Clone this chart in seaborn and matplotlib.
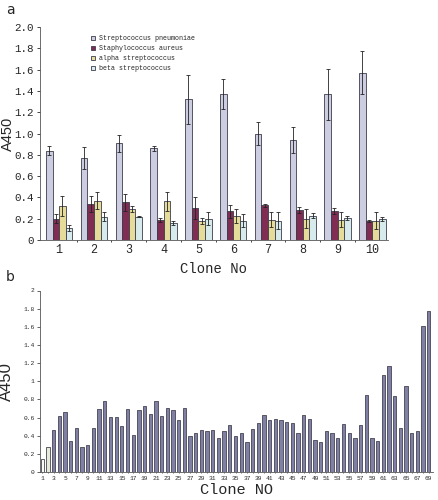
import numpy as np
import pandas as pd
import matplotlib
matplotlib.use("Agg")
import matplotlib.pyplot as plt
import seaborn as sns

sns.set_style("ticks")

# panel a: mean A450 and error per clone for each species
clones = ["1", "2", "3", "4", "5", "6", "7", "8", "9", "10"]
species = ["Streptococcus pneumoniae", "Staphylococcus aureus",
           "alpha streptococcus", "beta streptococcus"]
pneumoniae = [0.84, 0.77, 0.91, 0.86, 1.32, 1.37, 1.00, 0.94, 1.37, 1.57]
pneumoniae_err = [0.04, 0.10, 0.08, 0.02, 0.23, 0.14, 0.11, 0.12, 0.24, 0.20]
aureus = [0.20, 0.335, 0.355, 0.19, 0.30, 0.27, 0.325, 0.28, 0.27, 0.18]
aureus_err = [0.04, 0.075, 0.08, 0.02, 0.10, 0.06, 0.015, 0.03, 0.03, 0.01]
alpha = [0.32, 0.37, 0.29, 0.365, 0.18, 0.225, 0.19, 0.20, 0.19, 0.18]
alpha_err = [0.09, 0.08, 0.03, 0.09, 0.03, 0.07, 0.07, 0.09, 0.07, 0.08]
beta = [0.11, 0.22, 0.22, 0.16, 0.20, 0.18, 0.18, 0.23, 0.21, 0.20]
beta_err = [0.03, 0.04, 0.005, 0.02, 0.06, 0.06, 0.08, 0.02, 0.02, 0.02]

# panel b: A450 of clones 1-69
clone_no = [str(i) for i in range(1, 70)]
a450 = [0.14, 0.28, 0.46, 0.62, 0.66, 0.34, 0.48, 0.27, 0.30, 0.48,
        0.69, 0.78, 0.61, 0.61, 0.51, 0.69, 0.41, 0.68, 0.73, 0.635,
        0.78, 0.62, 0.71, 0.68, 0.575, 0.70, 0.40, 0.435, 0.46, 0.45,
        0.46, 0.375, 0.45, 0.515, 0.40, 0.425, 0.335, 0.47, 0.545, 0.63,
        0.57, 0.585, 0.57, 0.55, 0.545, 0.425, 0.63, 0.585, 0.35, 0.33,
        0.45, 0.43, 0.375, 0.53, 0.425, 0.37, 0.515, 0.85, 0.38, 0.34,
        1.07, 1.17, 0.835, 0.48, 0.95, 0.435, 0.45, 1.61, 1.77]

df = pd.DataFrame({
    "clone": clones * 4,
    "species": np.repeat(species, len(clones)),
    "value": pneumoniae + aureus + alpha + beta,
    "err": pneumoniae_err + aureus_err + alpha_err + beta_err,
})

mono = ["Liberation Mono", "DejaVu Sans Mono"]
narrow = ["Liberation Sans Narrow", "Liberation Sans", "DejaVu Sans"]

fig = plt.figure(figsize=(4.38, 5.0), dpi=100)

# ---- panel a ----
ax1 = fig.add_axes([40 / 438, 1 - 240 / 500, 348 / 438, 213 / 500])
pal = ["#c9c9e6", "#8e1f52", "#f2e68c", "#d3eef0"]
sns.barplot(data=df, x="clone", y="value", hue="species", order=clones,
            hue_order=species, palette=pal, errorbar=None, width=0.76,
            edgecolor="#3c3c4c", linewidth=0.6, ax=ax1)
errs = [pneumoniae_err, aureus_err, alpha_err, beta_err]
for cont, e in zip(ax1.containers, errs):
    xs = [b.get_x() + b.get_width() / 2 for b in cont]
    ys = [b.get_height() for b in cont]
    ax1.errorbar(xs, ys, yerr=e, fmt="none", ecolor="#222222",
                 elinewidth=0.6, capsize=1.5, capthick=0.6)
ax1.set_ylim(0, 2.0)
ax1.set_xlim(-0.55, 9.45)
ax1.set_yticks(np.arange(0, 2.01, 0.2))
ax1.set_yticklabels(["0"] + ["%.1f" % v for v in np.arange(0.2, 2.01, 0.2)],
                    family=mono, fontsize=7.8)
ax1.set_xticks(range(10))
ax1.set_xticklabels(clones, family=mono, fontsize=8.5)
ax1.set_xticks(np.arange(0.5, 9.5, 1), minor=True)
ax1.tick_params(axis="x", which="major", length=0, pad=3)
ax1.tick_params(axis="x", which="minor", length=1.5, width=0.6)
ax1.tick_params(axis="y", length=2.5, width=0.6, pad=2)
ax1.set_xlabel("Clone No", family=mono, fontsize=10, labelpad=4)
ax1.set_ylabel("A450", family=narrow, fontsize=10.5)
ax1.yaxis.set_label_coords(-0.072, 0.5)
for s in ["left", "bottom"]:
    ax1.spines[s].set_linewidth(0.6)
    ax1.spines[s].set_color("#555555")
sns.despine(ax=ax1)
leg = ax1.legend(loc="upper left", bbox_to_anchor=(0.13, 0.99), frameon=False,
                 prop={"family": mono, "size": 4.8}, handlelength=0.6,
                 handleheight=0.6, handletextpad=0.6, labelspacing=0.45)
fig.text(6 / 438, 1 - 10 / 500, "a", fontsize=10, family="DejaVu Sans",
         va="center")

# ---- panel b ----
ax2 = fig.add_axes([40 / 438, 1 - 472 / 500, 393 / 438, 181.5 / 500])
bar_cols = {c: "#7a7aaa" for c in clone_no}
bar_cols["1"] = "#fafaf4"
bar_cols["2"] = "#e8edd6"
sns.barplot(x=clone_no, y=a450, hue=clone_no, palette=bar_cols, legend=False,
            width=0.58, edgecolor="#444455", linewidth=0.6, ax=ax2)
ax2.set_ylim(0, 2.0)
ax2.set_xlim(-0.4, 68.75)
ax2.set_yticks(np.arange(0, 2.01, 0.2))
ax2.set_yticklabels(["%g" % round(v, 1) for v in np.arange(0, 2.01, 0.2)],
                    family=mono, fontsize=4.5)
ax2.set_xticks(range(69))
ax2.set_xticklabels([c if int(c) % 2 else "" for c in clone_no],
                    family=mono, fontsize=4.5)
ax2.tick_params(axis="x", length=1, width=0.5, pad=2)
ax2.tick_params(axis="y", length=2, width=0.5, pad=2)
ax2.set_xlabel("Clone NO", family=mono, fontsize=11, labelpad=1)
ax2.set_ylabel("A450", family=narrow, fontsize=12)
ax2.yaxis.set_label_coords(-0.066, 0.5)
for s in ["left", "bottom"]:
    ax2.spines[s].set_linewidth(0.6)
    ax2.spines[s].set_color("#555555")
sns.despine(ax=ax2)
fig.text(6 / 438, 1 - 277 / 500, "b", fontsize=10, family="DejaVu Sans",
         va="center")

fig.savefig("out.png", dpi=100)
